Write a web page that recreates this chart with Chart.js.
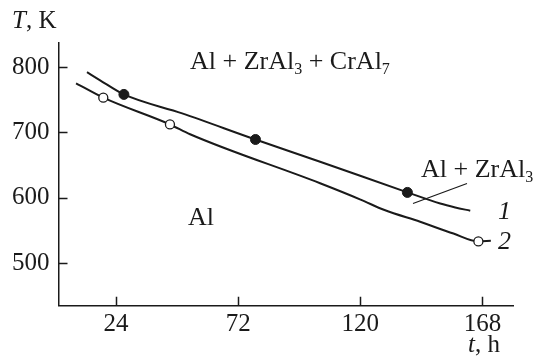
<!DOCTYPE html>
<html>
<head>
<meta charset="utf-8">
<script src="https://cdn.jsdelivr.net/npm/chart.js@4.4.1/dist/chart.umd.min.js"></script>
<style>
  html, body { margin: 0; padding: 0; background: #fff; }
  #wrap { width: 538px; height: 358px; position: relative; }
</style>
</head>
<body>
<div id="wrap"><canvas id="c" width="538" height="358"></canvas></div>
<script>
// ---- data ----
const xTickLabels = [24, 72, 120, 168];
const yTickLabels = [500, 600, 700, 800];

// curve 1 (upper boundary)
const curve1Time = [12.6, 17.6, 27.1, 50.0, 78.8, 104.2, 138.5, 151.4, 157.3, 163.2];
const curve1Temp = [792, 780, 758, 729, 689, 655, 608, 591, 585, 580];
// curve 2 (lower boundary)
const curve2Time = [8.3, 19.0, 45.2, 53.1, 104.2, 120.1, 129.5, 143.5, 156.6, 166.4, 171.3];
const curve2Temp = [775, 753, 712, 697, 622, 597, 581, 563, 545, 533, 534];

// experimental points
const filledTime = [27.1, 78.8, 138.5];
const filledTemp = [758, 689, 608];
const openTime = [19.0, 45.2, 166.4];
const openTemp = [753, 712, 533];

const toXY = (xs, ys) => xs.map((x, i) => ({ x: x, y: ys[i] }));

const FONT = '"Liberation Serif", "Times New Roman", serif';
const INK = '#1a1a1a';

function drawRich(ctx, x, y, parts, size) {
  ctx.textAlign = 'left';
  ctx.textBaseline = 'alphabetic';
  for (const p of parts) {
    const s = p.sub ? Math.round(size * 0.6) : size;
    ctx.font = (p.i ? 'italic ' : '') + s + 'px ' + FONT;
    ctx.fillText(p.t, x, y + (p.sub ? size * 0.2 : 0));
    x += ctx.measureText(p.t).width;
  }
}

const decor = {
  id: 'decor',
  afterDraw(chart) {
    const ctx = chart.ctx;
    const xs = chart.scales.x, ys = chart.scales.y;
    const area = chart.chartArea;
    ctx.save();
    // inward tick marks
    ctx.strokeStyle = INK;
    ctx.lineWidth = 1.5;
    ctx.beginPath();
    for (const v of xTickLabels) {
      const px = Math.round(xs.getPixelForValue(v)) + 0.5;
      ctx.moveTo(px, area.bottom);
      ctx.lineTo(px, area.bottom - 9);
    }
    for (const v of yTickLabels) {
      const py = Math.round(ys.getPixelForValue(v)) + 0.5;
      ctx.moveTo(area.left, py);
      ctx.lineTo(area.left + 9, py);
    }
    ctx.stroke();

    // leader line for "Al + ZrAl3"
    ctx.lineWidth = 1.2;
    ctx.beginPath();
    ctx.moveTo(413, 203.5);
    ctx.lineTo(467, 183.5);
    ctx.stroke();

    ctx.fillStyle = INK;
    // axis titles
    drawRich(ctx, 12, 28, [{ t: 'T', i: true }, { t: ', K' }], 25);
    drawRich(ctx, 468, 352, [{ t: 't', i: true }, { t: ', h' }], 25);
    // region labels
    drawRich(ctx, 190, 69, [{ t: 'Al + ZrAl' }, { t: '3', sub: true }, { t: ' + CrAl' }, { t: '7', sub: true }], 26);
    drawRich(ctx, 421, 177, [{ t: 'Al + ZrAl' }, { t: '3', sub: true }], 26);
    drawRich(ctx, 188, 225, [{ t: 'Al' }], 26);
    // curve numbers
    drawRich(ctx, 498, 219, [{ t: '1', i: true }], 26);
    drawRich(ctx, 498, 249, [{ t: '2', i: true }], 26);
    ctx.restore();
  }
};

const lineStyle = {
  showLine: true,
  pointRadius: 0,
  pointHoverRadius: 0,
  borderColor: INK,
  borderWidth: 2,
  cubicInterpolationMode: 'monotone',
  fill: false
};

new Chart(document.getElementById('c'), {
  type: 'scatter',
  data: {
    datasets: [
      Object.assign({ label: '1', data: toXY(curve1Time, curve1Temp), order: 3 }, lineStyle),
      Object.assign({ label: '2', data: toXY(curve2Time, curve2Temp), order: 3 }, lineStyle),
      {
        label: 'filled', data: toXY(filledTime, filledTemp), showLine: false, order: 1,
        pointRadius: 5, backgroundColor: INK, borderColor: INK, borderWidth: 1
      },
      {
        label: 'open', data: toXY(openTime, openTemp), showLine: false, order: 1,
        pointRadius: 4.5, backgroundColor: '#fff', borderColor: INK, borderWidth: 1.3
      }
    ]
  },
  options: {
    responsive: false,
    animation: false,
    events: [],
    layout: { padding: { top: 43, right: 25, left: 0, bottom: 0 } },
    plugins: { legend: { display: false }, tooltip: { enabled: false } },
    scales: {
      x: {
        type: 'linear',
        min: 1.4, max: 180,
        afterBuildTicks: s => { s.ticks = xTickLabels.map(v => ({ value: v })); },
        afterFit: s => { s.height = 52.3; },
        grid: { display: true, drawOnChartArea: false, drawTicks: false },
        border: { display: true, color: INK, width: 1.5 },
        ticks: { color: INK, padding: 4, maxRotation: 0, autoSkip: false,
                 font: { family: FONT, size: 25 } }
      },
      y: {
        type: 'linear',
        min: 434.6, max: 836.7,
        afterBuildTicks: s => { s.ticks = yTickLabels.map(v => ({ value: v })); },
        afterFit: s => { s.width = 58.5; },
        grid: { display: true, drawOnChartArea: false, drawTicks: false },
        border: { display: true, color: INK, width: 1.5 },
        ticks: { color: INK, padding: 9, autoSkip: false,
                 font: { family: FONT, size: 25 } }
      }
    }
  },
  plugins: [decor]
});
</script>
</body>
</html>
